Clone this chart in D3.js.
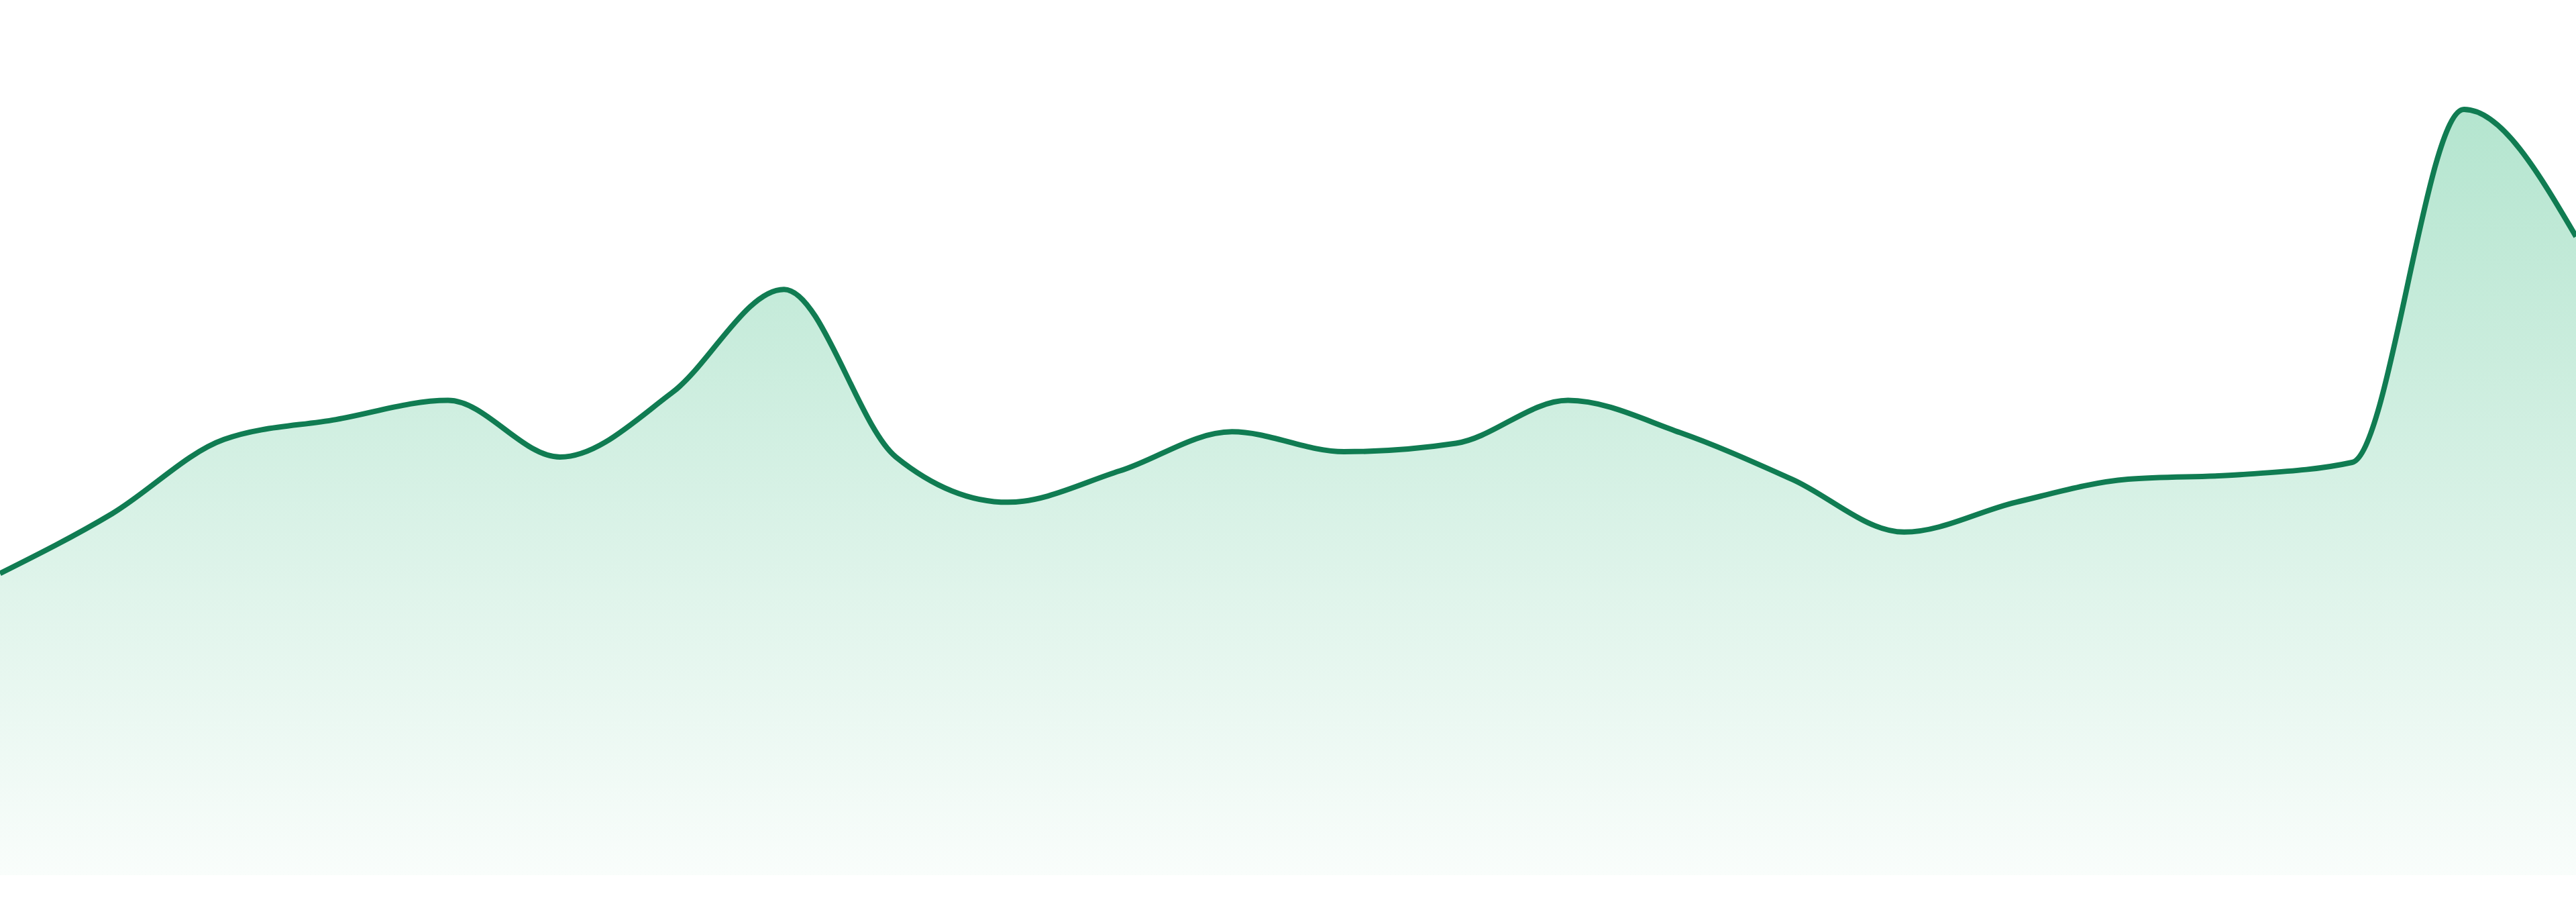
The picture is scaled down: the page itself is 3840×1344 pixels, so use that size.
<!DOCTYPE html>
<html lang="en">
<head>
    <meta charset="UTF-8">
    <title>Area trend</title>
    <script src="https://d3js.org/d3.v7.min.js"></script>
    <style>
        html, body {
            margin: 0;
            padding: 0;
            background: #ffffff;
        }
        svg {
            display: block;
        }
    </style>
</head>
<body>
    <script>
        // one value per step
        const steps = d3.range(24)
        const values = [
            39.4, 47.2, 56.9, 59.5, 62.0, 54.6, 63.0, 76.5,
            54.6, 48.7, 52.8, 57.9, 55.3, 56.4, 62.0, 57.8,
            51.7, 44.8, 48.7, 51.7, 52.3, 53.9, 100, 83.4
        ]
        const yDomain = [0, 100]

        const width = 3840,
              height = 1344,
              margin = {top: 163, right: 0, bottom: 40, left: 0}

        const data = steps.map((s, i) => ({step: s, value: values[i]}))

        const svg = d3.select("body").append("svg")
            .attr("width", width)
            .attr("height", height)

        const x = d3.scaleLinear()
            .domain(d3.extent(steps))
            .range([margin.left, width - margin.right])

        const y = d3.scaleLinear()
            .domain(yDomain)
            .range([height - margin.bottom, margin.top])

        const grad = svg.append("defs").append("linearGradient")
            .attr("id", "fillGrad")
            .attr("gradientUnits", "userSpaceOnUse")
            .attr("x1", 0).attr("x2", 0)
            .attr("y1", y(yDomain[1]))
            .attr("y2", y(0))
        grad.append("stop").attr("offset", "0%").attr("stop-color", "#b4e5cf")
        grad.append("stop").attr("offset", "100%").attr("stop-color", "#f9fdfb")

        const area = d3.area()
            .curve(d3.curveMonotoneX)
            .x(d => x(d.step))
            .y0(y(0))
            .y1(d => y(d.value))

        const line = d3.line()
            .curve(d3.curveMonotoneX)
            .x(d => x(d.step))
            .y(d => y(d.value))

        svg.append("path")
            .datum(data)
            .attr("fill", "url(#fillGrad)")
            .attr("d", area)

        svg.append("path")
            .datum(data)
            .attr("fill", "none")
            .attr("stroke", "#107c52")
            .attr("stroke-width", 8)
            .attr("stroke-linejoin", "round")
            .attr("d", line)
    </script>
</body>
</html>
